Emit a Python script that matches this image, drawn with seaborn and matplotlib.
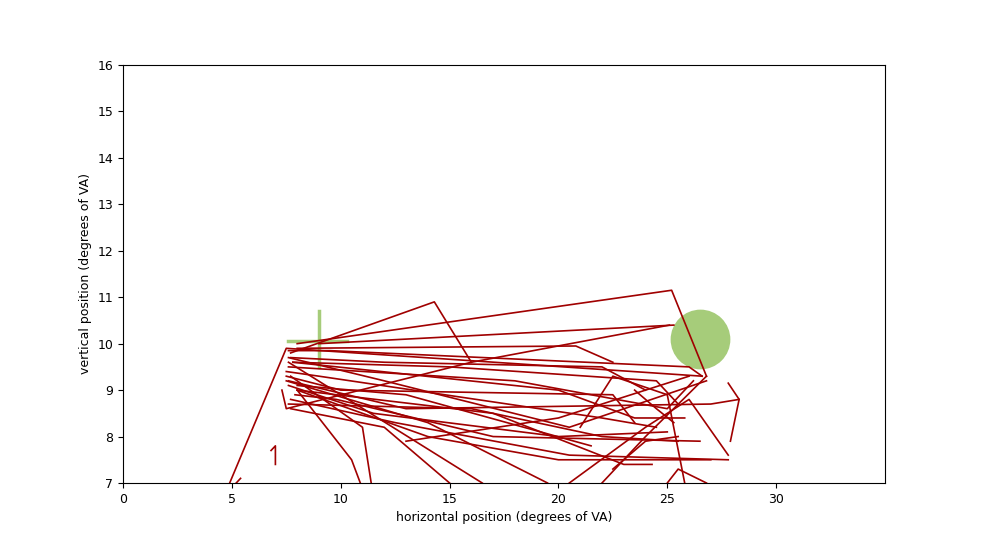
import pandas as pd
import numpy as np
import matplotlib
matplotlib.use('Agg')
import matplotlib.pyplot as plt
import seaborn as sns

# eye trajectories (degrees of VA)
traj_x = [
    [4.9, 7.5, 26.6],
    [7.7, 14.3, 16.0],
    [8.0, 25.2, 26.8],
    [9.0, 25.3],
    [8.0, 20.8, 22.5],
    [7.6, 9.5, 26.0, 26.6],
    [7.7, 12.0, 22.0, 24.0],
    [7.8, 15.0, 24.5, 25.5],
    [7.6, 18.0, 25.0, 26.2],
    [7.5, 10.0, 22.5, 23.5],
    [7.6, 13.0, 27.0, 28.3],
    [7.6, 11.5, 20.0, 25.0],
    [7.7, 11.0, 11.4],
    [8.0, 10.5, 10.9],
    [8.0, 14.0, 20.0, 27.0],
    [7.7, 12.5, 20.5, 27.8],
    [7.6, 16.0, 22.0, 25.5],
    [7.5, 9.0, 22.0, 24.5],
    [8.0, 17.0, 23.0, 24.3],
    [7.6, 10.0, 16.5],
    [7.7, 12.0, 15.0],
    [7.5, 14.0, 19.5],
    [8.0, 13.0, 21.5],
    [7.9, 9.8, 17.0, 26.5],
    [7.8, 20.0, 23.5, 25.8],
    [7.6, 12.0, 20.5, 26.8],
    [13.0, 20.0, 26.0],
    [22.0, 24.0, 26.8],
    [20.5, 24.0, 26.0, 27.8],
    [25.0, 25.5, 26.8],
    [22.5, 24.0, 25.5],
    [7.0, 7.0, 6.8],
    [5.2, 5.4],
    [23.5, 24.5, 25.3],
    [27.8, 28.3, 27.9],
    [21.0, 22.5, 25.0, 25.8],
    [7.3, 7.5, 16.0, 25.1],
]
traj_y = [
    [7.0, 9.9, 9.3],
    [9.8, 10.9, 9.6],
    [10.0, 11.15, 9.3],
    [10.0, 10.4],
    [9.9, 9.95, 9.6],
    [9.85, 9.85, 9.5, 9.3],
    [9.7, 9.6, 9.5, 9.0],
    [9.6, 9.5, 9.2, 8.7],
    [9.5, 9.2, 8.6, 9.2],
    [9.3, 9.0, 8.9, 8.3],
    [9.2, 8.6, 8.7, 8.8],
    [9.1, 8.5, 8.0, 8.1],
    [9.3, 8.2, 7.0],
    [9.0, 7.5, 7.0],
    [9.0, 8.0, 7.5, 7.5],
    [8.8, 8.3, 7.6, 7.5],
    [8.7, 8.6, 8.0, 7.9],
    [9.4, 9.3, 8.4, 8.2],
    [9.0, 8.5, 7.4, 7.4],
    [9.6, 8.9, 7.0],
    [8.6, 8.2, 7.0],
    [9.2, 8.3, 7.0],
    [9.1, 8.9, 7.8],
    [8.9, 8.8, 8.0, 7.9],
    [9.6, 9.0, 8.4, 8.4],
    [9.7, 9.2, 8.2, 9.2],
    [7.9, 8.4, 9.3],
    [7.0, 8.0, 9.3],
    [7.0, 8.2, 8.8, 7.6],
    [7.0, 7.3, 7.0],
    [7.3, 7.9, 8.0],
    [7.4, 7.8, 7.7],
    [7.0, 7.1],
    [9.0, 8.6, 8.3],
    [9.15, 8.8, 7.9],
    [8.2, 9.3, 8.9, 7.0],
    [9.0, 8.6, 9.6, 10.4],
]

target_x, target_y = 26.5, 10.1
fix_x, fix_y = 9.0, 10.05

rows = []
for i, (xs, ys) in enumerate(zip(traj_x, traj_y)):
    for x, y in zip(xs, ys):
        rows.append({'trial': i, 'x': x, 'y': y})
df = pd.DataFrame(rows)

plt.rcParams['font.size'] = 9
fig = plt.figure(figsize=(9.83, 5.52), dpi=100)
ax = fig.add_axes([123 / 983, 69 / 552, 762 / 983, 418 / 552])

# target circle and fixation cross (under the traces)
ax.scatter([target_x], [target_y], s=1850, color='#a6cc7a', zorder=1, linewidths=0)
ax.plot([fix_x - 1.4, fix_x + 1.3], [fix_y, fix_y], color='#a6cc7a', lw=2.5, zorder=1)
ax.plot([fix_x, fix_x], [fix_y - 0.55, fix_y + 0.65], color='#a6cc7a', lw=2.5, zorder=1)

sns.lineplot(data=df, x='x', y='y', units='trial', estimator=None, sort=False,
             color='#a00000', linewidth=1.2, ax=ax, zorder=2)

ax.set_xlim(0, 35)
ax.set_ylim(7, 16)
ax.set_xticks([0, 5, 10, 15, 20, 25, 30])
ax.set_xlabel('horizontal position (degrees of VA)')
ax.set_ylabel('vertical position (degrees of VA)')
fig.savefig('out.png', dpi=100)
